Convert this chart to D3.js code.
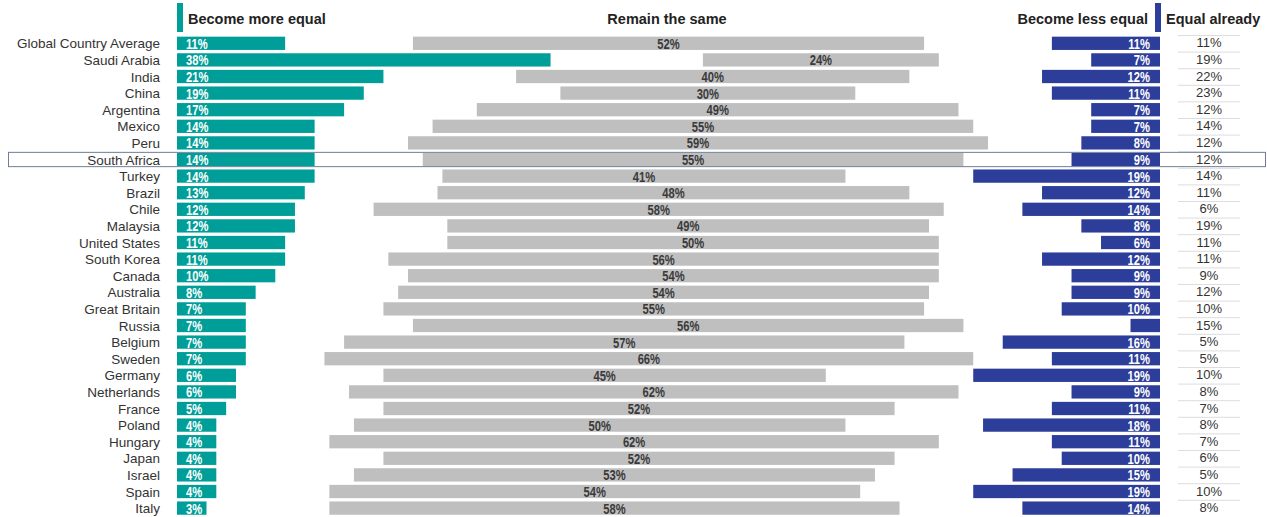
<!DOCTYPE html>
<html>
<head>
<meta charset="utf-8">
<script src="https://cdn.jsdelivr.net/npm/d3@7/dist/d3.min.js"></script>
<style>
  html, body { margin: 0; padding: 0; background: #fff; }
  svg { display: block; }
  .country { font-family: "Liberation Sans", Arial, sans-serif; font-size: 13.5px; fill: #333; }
  .head { font-family: "Liberation Sans", Arial, sans-serif; font-size: 14.5px; font-weight: bold; fill: #222; }
  .val { font-family: "Liberation Sans", Arial, sans-serif; font-size: 14px; font-weight: bold; }
  .already { font-family: "Liberation Sans", Arial, sans-serif; font-size: 13px; fill: #333; }
</style>
</head>
<body>
<svg id="chart" width="1267" height="517"></svg>
<script>
const countries = ["Global Country Average", "Saudi Arabia", "India", "China", "Argentina", "Mexico", "Peru",
  "South Africa", "Turkey", "Brazil", "Chile", "Malaysia", "United States", "South Korea", "Canada",
  "Australia", "Great Britain", "Russia", "Belgium", "Sweden", "Germany", "Netherlands", "France",
  "Poland", "Hungary", "Japan", "Israel", "Spain", "Italy"];
const moreEqual   = [11, 38, 21, 19, 17, 14, 14, 14, 14, 13, 12, 12, 11, 11, 10, 8, 7, 7, 7, 7, 6, 6, 5, 4, 4, 4, 4, 4, 3];
const remainSame  = [52, 24, 40, 30, 49, 55, 59, 55, 41, 48, 58, 49, 50, 56, 54, 54, 55, 56, 57, 66, 45, 62, 52, 50, 62, 52, 53, 54, 58];
const lessEqual   = [11, 7, 12, 11, 7, 7, 8, 9, 19, 12, 14, 8, 6, 12, 9, 9, 10, 3, 16, 11, 19, 9, 11, 18, 11, 10, 15, 19, 14];
const equalAlready = [11, 19, 22, 23, 12, 14, 12, 12, 14, 11, 6, 19, 11, 11, 9, 12, 10, 15, 5, 5, 10, 8, 7, 8, 7, 6, 5, 10, 8];
const highlighted = "South Africa";

const headers = { more: "Become more equal", same: "Remain the same", less: "Become less equal", already: "Equal already" };
const colors = { more: "#009e98", same: "#bfbfbf", less: "#2c3e99" };

const rows = countries.map((c, i) => ({
  country: c, more: moreEqual[i], same: remainSame[i], less: lessEqual[i], already: equalAlready[i]
}));

const svg = d3.select("#chart");

const x = d3.scaleLinear().domain([0, 100]).range([177, 1160]);
const y = d3.scaleBand().domain(countries).range([35, 516.4]).paddingInner(0.2).paddingOuter(0.1);
const bh = y.bandwidth();
const step = y.step();

// The "remain the same" bar sits centred in the gap between the two side bars
const sameStart = d => d.more + (100 - d.more - d.same - d.less) / 2;

// Narrow value labels: horizontally squeezed around their anchor point
const squeeze = 0.8;
const place = (px, d) => `translate(${px},${y(d.country) + bh / 2 + 5.5}) scale(${squeeze},1)`;

// Header markers and titles
svg.append("rect").attr("x", x(0)).attr("y", 3).attr("width", 6).attr("height", 29).attr("fill", colors.more);
svg.append("rect").attr("x", x(100) - 5).attr("y", 3).attr("width", 6).attr("height", 29).attr("fill", colors.less);
svg.append("text").attr("class", "head").attr("x", x(0) + 11).attr("y", 24).text(headers.more);
svg.append("text").attr("class", "head").attr("x", 667).attr("y", 24).attr("text-anchor", "middle").text(headers.same);
svg.append("text").attr("class", "head").attr("x", x(100) - 12).attr("y", 24).attr("text-anchor", "end").text(headers.less);
svg.append("text").attr("class", "head").attr("x", x(100) + 6).attr("y", 24).text(headers.already);

// Separator lines of the "equal already" column
svg.append("g").selectAll("line").data(rows).join("line")
  .attr("x1", 1178).attr("x2", 1240)
  .attr("y1", d => y(d.country) - (step - bh) / 2 + 0.5)
  .attr("y2", d => y(d.country) - (step - bh) / 2 + 0.5)
  .attr("stroke", "#dddddd").attr("stroke-width", 1);

// Country labels
svg.append("g").selectAll("text").data(rows).join("text")
  .attr("class", "country")
  .attr("x", 160).attr("y", d => y(d.country) + bh / 2 + 5)
  .attr("text-anchor", "end").text(d => d.country);

// Become more equal
const gMore = svg.append("g");
gMore.selectAll("rect").data(rows).join("rect")
  .attr("x", x(0)).attr("y", d => y(d.country))
  .attr("width", d => x(d.more) - x(0)).attr("height", bh).attr("fill", colors.more);
gMore.selectAll("text").data(rows).join("text")
  .attr("class", "val").attr("fill", "#fff")
  .attr("transform", d => place(x(0) + 9, d))
  .text(d => d.more + "%");

// Remain the same
const gSame = svg.append("g");
gSame.selectAll("rect").data(rows).join("rect")
  .attr("x", d => x(sameStart(d))).attr("y", d => y(d.country))
  .attr("width", d => x(d.same) - x(0)).attr("height", bh).attr("fill", colors.same);
gSame.selectAll("text").data(rows).join("text")
  .attr("class", "val").attr("fill", "#3a3a3a").attr("text-anchor", "middle")
  .attr("transform", d => place(x(sameStart(d) + d.same / 2), d))
  .text(d => d.same + "%");

// Become less equal
const gLess = svg.append("g");
gLess.selectAll("rect").data(rows).join("rect")
  .attr("x", d => x(100 - d.less)).attr("y", d => y(d.country))
  .attr("width", d => x(100) - x(100 - d.less)).attr("height", bh).attr("fill", colors.less);
gLess.selectAll("text").data(rows.filter(d => d.less >= 5)).join("text")
  .attr("class", "val").attr("fill", "#fff").attr("text-anchor", "end")
  .attr("transform", d => place(x(100) - 10, d))
  .text(d => d.less + "%");

// Equal already
svg.append("g").selectAll("text").data(rows).join("text")
  .attr("class", "already").attr("text-anchor", "middle")
  .attr("x", 1209).attr("y", d => y(d.country) + bh / 2 + 4)
  .text(d => d.already + "%");

// Highlight frame round one row
svg.append("rect")
  .attr("x", 8.5).attr("y", y(highlighted) - 0.5)
  .attr("width", 1257).attr("height", bh + 1)
  .attr("fill", "none").attr("stroke", "#6f7f9a").attr("stroke-width", 1);
</script>
</body>
</html>
